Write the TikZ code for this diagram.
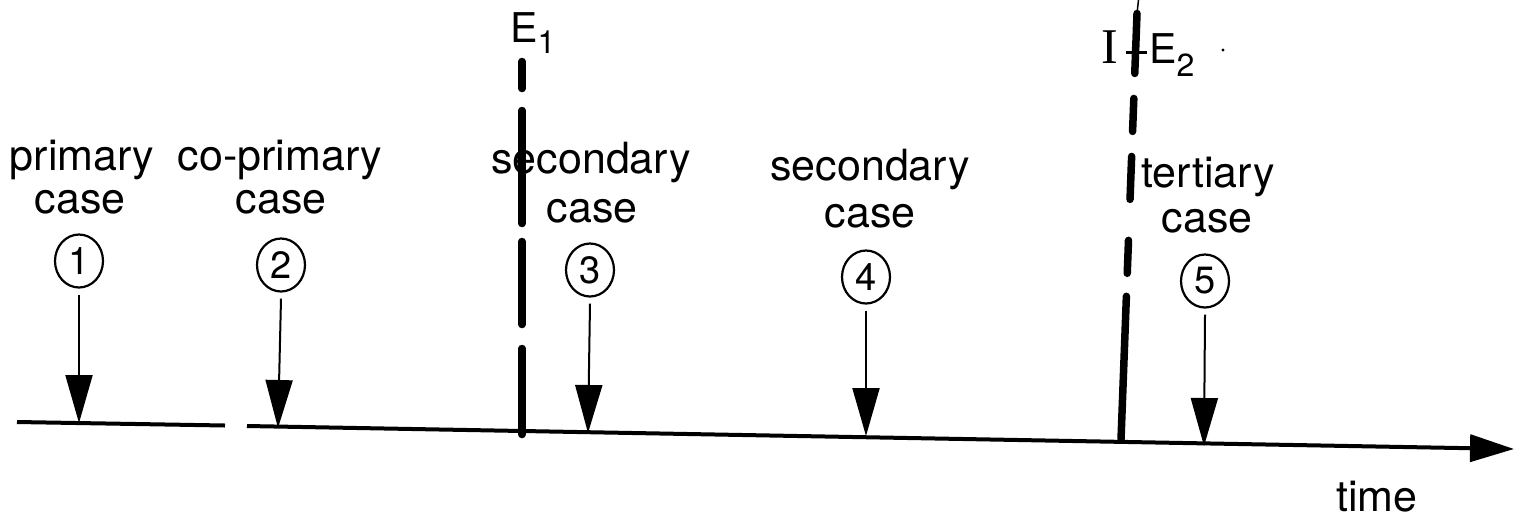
\documentclass[tikz,border=0pt]{standalone}
\usepackage{fontspec}
\setmainfont{TeX Gyre Heros}
\newfontfamily\serifI{Liberation Serif}
\usetikzlibrary{arrows.meta,shapes.geometric}
\begin{document}
\begin{tikzpicture}[x=1pt,y=1pt,
  lbl/.style={anchor=base,inner sep=0pt,font=\fontsize{43}{43}\selectfont},
  num/.style={ellipse,draw,line width=2.2pt,minimum width=48pt,minimum height=53pt,inner sep=0pt,font=\fontsize{38}{38}\selectfont},
  pointer/.style={line width=2pt,-{Triangle[length=48pt,width=27pt]}},
  axis/.style={line width=4pt},
  event/.style={line width=7.5pt,line cap=round}]
\useasboundingbox (0,0) rectangle (1514,-523);
% labels
\node[lbl] (p1) at (82,-170) {primary};
\node[lbl] (p2) at (80,-213) {case};
\node[lbl] (cp1) at (280,-170) {co-primary};
\node[lbl] (cp2) at (281,-213) {case};
\node[lbl] (s1) at (591,-173) {secondary};
\node[lbl] (s2) at (592,-222) {case};
\node[lbl] (sb1) at (870,-180) {secondary};
\node[lbl] (sb2) at (870,-227) {case};
\node[lbl] (t1) at (1208,-187) {tertiary};
\node[lbl] (t2) at (1207,-232) {case};
\node[lbl] (time) at (1377,-511) {time};
% event labels
\node[anchor=base west,inner sep=0pt,font=\fontsize{41}{41}\selectfont] (e1) at (510,-42) {E\raisebox{-11pt}{\fontsize{32}{32}\selectfont 1}};
\node[anchor=base west,inner sep=0pt,font=\fontsize{41}{41}\selectfont] (e2) at (1149,-63) {E\raisebox{-13pt}{\fontsize{32}{32}\selectfont 2}};
\node[anchor=base,inner sep=0pt,font=\serifI\fontsize{50}{50}\selectfont] (iI) at (1110,-63) {I};
% circles
\node[num] (c1) at (79,-261) {1};
\node[num] (c2) at (281,-265) {2};
\node[num] (c3) at (590,-270) {3};
\node[num] (c4) at (866,-277) {4};
\node[num] (c5) at (1205,-281) {5};
% timeline
\coordinate (a0) at (17,-422);
\coordinate (a1) at (225,-425.5);
\coordinate (b0) at (247,-426);
\coordinate (b1) at (1514,-449);
\draw[axis] (a0) -- (a1);
\draw[axis,-{Triangle[length=44pt,width=27pt]}] (b0) -- (b1);
% points on timeline
\coordinate (x1) at (79,-423);
\coordinate (x2) at (278,-428);
\coordinate (x3) at (588,-433);
\coordinate (x4) at (866,-436);
\coordinate (x5) at (1204,-446);
\draw[pointer] ([yshift=-6pt]c1.south) -- (x1);
\draw[pointer] ([yshift=-6pt]c2.south) -- (x2);
\draw[pointer] ([yshift=-6pt]c3.south) -- (x3);
\draw[pointer] ([yshift=-6pt]c4.south) -- (x4);
\draw[pointer] ([yshift=-6pt]c5.south) -- (x5);
% event lines
\coordinate (e1top) at (522,-61.5);
\coordinate (e1bot) at (522,-434.5);
\draw[event,dash pattern=on 27pt off 22pt on 113pt off 18pt on 83pt off 24pt on 86pt off 1000pt] (e1top) -- (e1bot);
\coordinate (e2top) at (1137,-13.5);
\coordinate (e2bot) at (1121,-439.5);
\coordinate (e2tip) at (1138.5,0);
\draw[event,dash pattern=on 60pt off 25pt on 33pt off 25pt on 43pt off 41pt on 33pt off 23pt on 143pt off 1000pt] (e2top) -- (e2bot);
\draw[line width=1.5pt] (e2tip) -- (e2top);
\coordinate (h0) at (1126,-52);
\coordinate (h1) at (1147,-52);
\draw[line width=3pt] (h0) -- (h1);
\fill (1223,-50) circle (1.6pt);
\end{tikzpicture}
\end{document}
